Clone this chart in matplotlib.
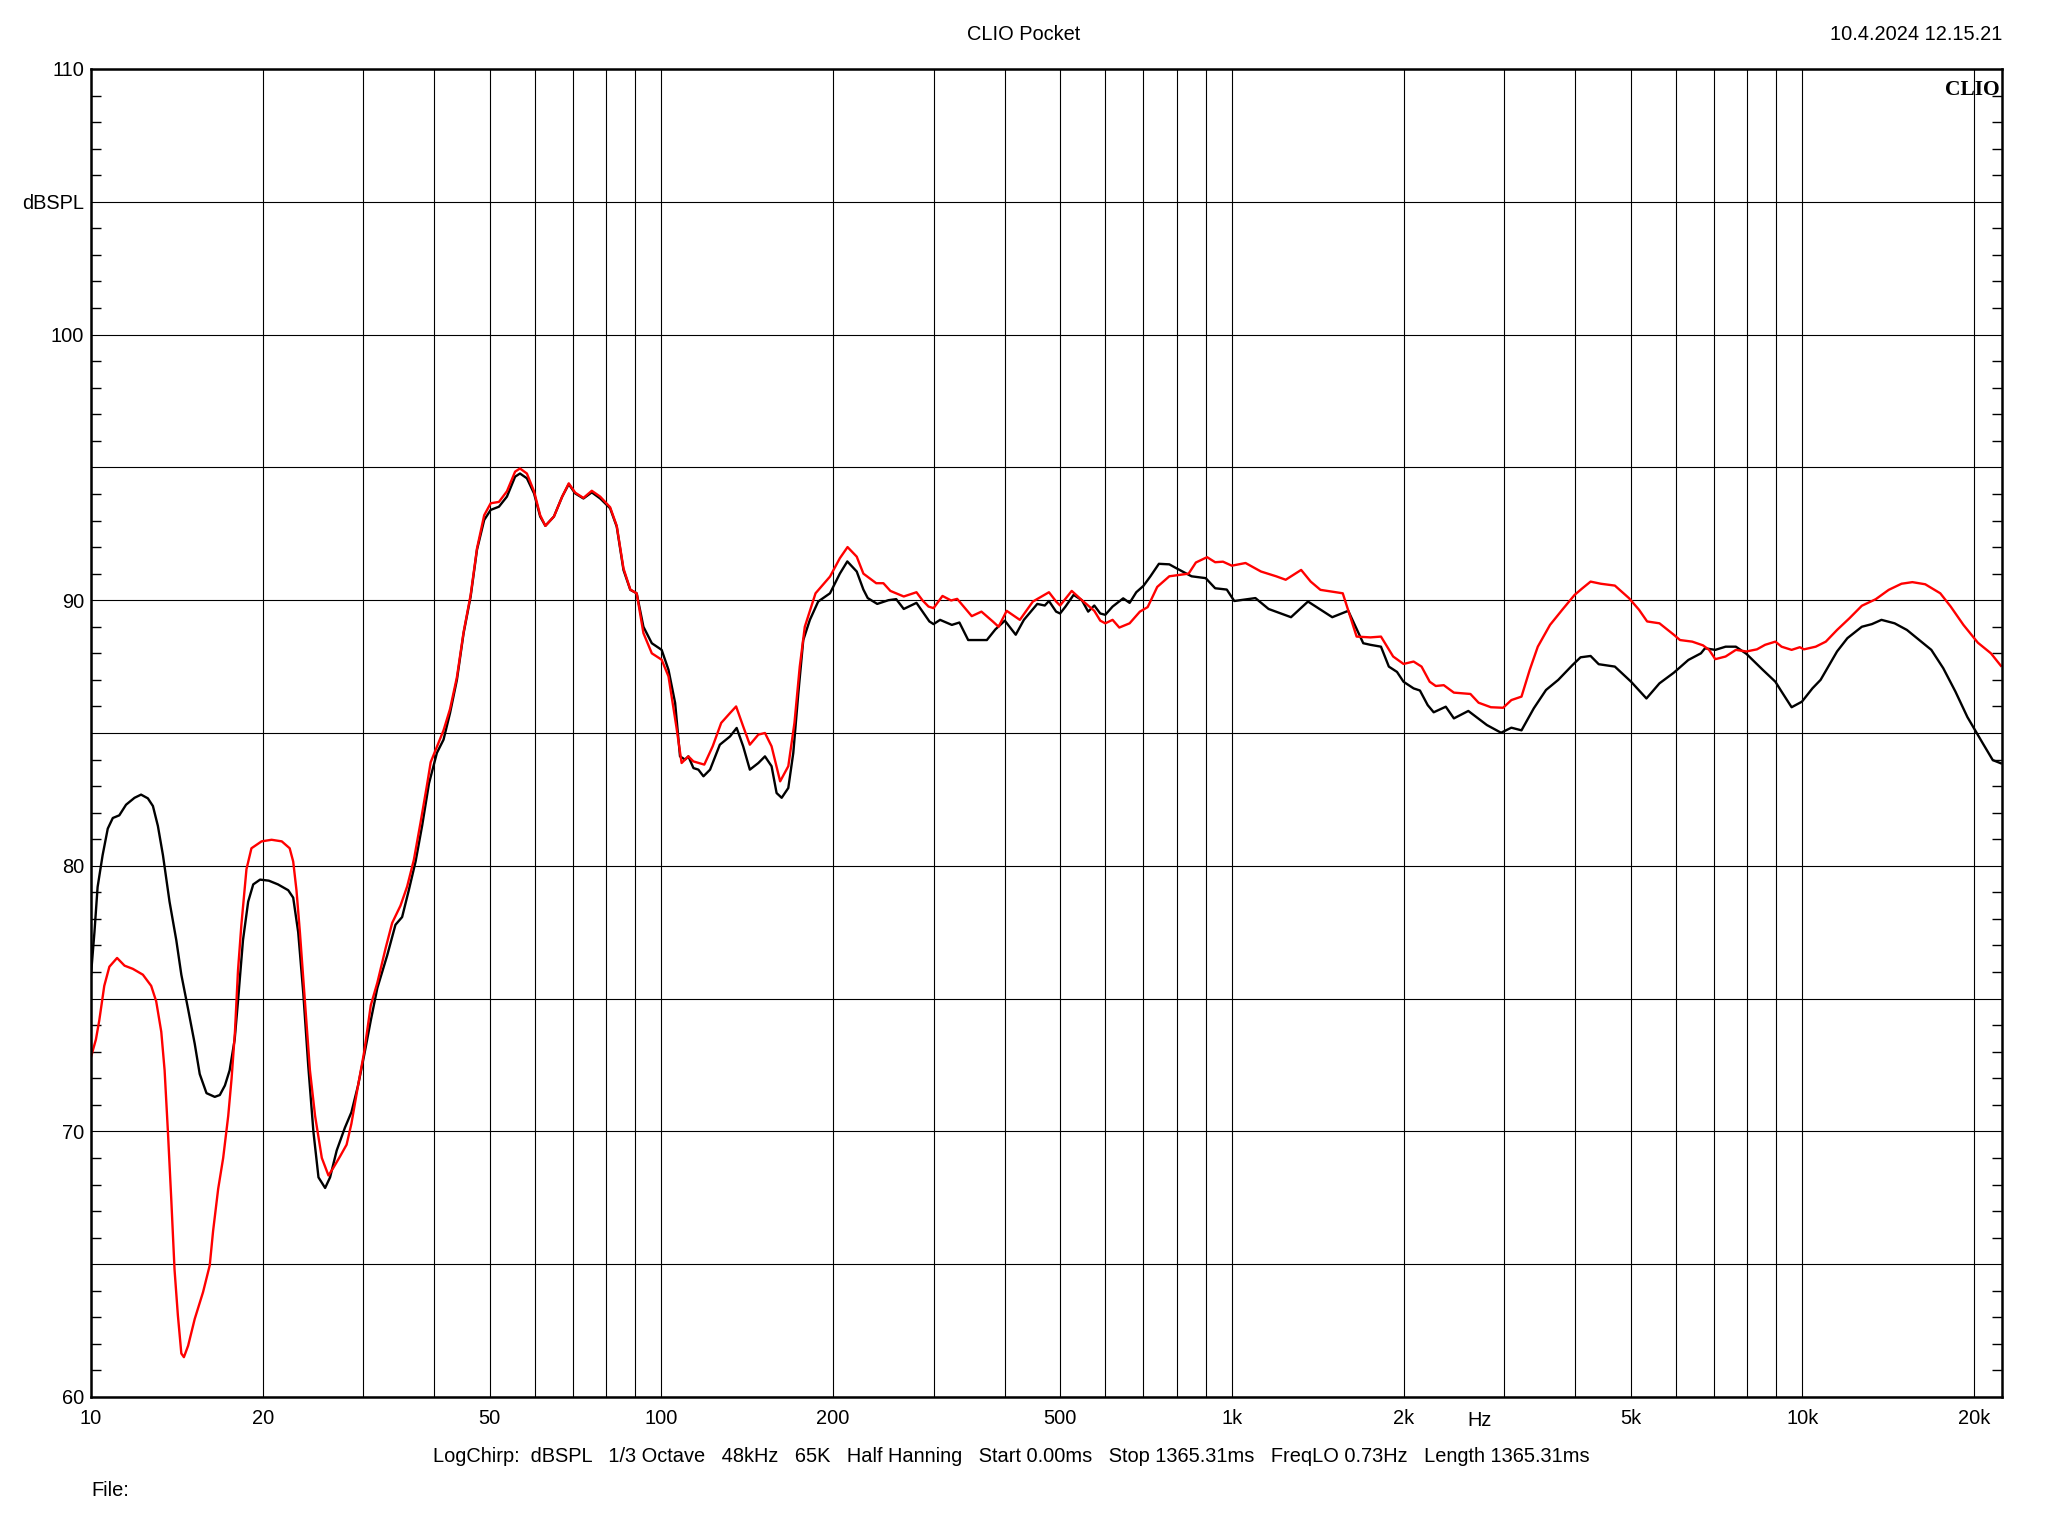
import numpy as np
import matplotlib.pyplot as plt
from matplotlib.ticker import FixedLocator, NullFormatter
import matplotlib.transforms as mtransforms

plt.rcParams['font.family'] = ['Liberation Sans', 'DejaVu Sans']

# Curva preta (medicao 1) - frequencia em Hz e nivel em dBSPL
f_black = [10, 10.14, 10.27, 10.48, 10.7, 10.92, 11.21, 11.52, 11.92, 12.24, 12.58, 12.84,
           13.1, 13.37, 13.73, 14.11, 14.4, 14.8, 15.2, 15.51, 15.94, 16.48, 16.82, 17.17,
           17.5, 17.86, 18.1, 18.47, 18.86, 19.25, 19.79, 20.5, 21.27, 22.17, 22.62, 23.08,
           23.56, 24.04, 24.54, 25.05, 25.73, 26.25, 26.96, 27.87, 28.61, 29.39, 30.13, 30.94,
           31.77, 33.06, 34.18, 35.11, 36.07, 37.07, 38.08, 39.13, 40.4, 41.5, 42.6, 43.8,
           45.0, 46.3, 47.5, 48.9, 50.2, 51.9, 53.6, 55.4, 56.5, 58.1, 59.8, 61.3,
           62.6, 64.8, 67.0, 68.8, 70.6, 73.0, 75.5, 78.1, 81.3, 83.5, 85.8, 88.2,
           90.5, 93.0, 96.2, 100.1, 102.9, 105.7, 107.8, 110, 111.5, 113.8, 116.1, 118.5,
           121.7, 126.6, 131.9, 135.5, 139.1, 142.9, 147.9, 151.9, 156, 159.2, 162.5, 166.9,
           170.3, 173.8, 177.3, 182.1, 188.3, 197.5, 205.5, 211.8, 220, 226, 230, 239,
           250, 258, 266, 280, 295, 300, 308, 323, 333, 345, 372, 385,
           400, 418, 432, 456, 470, 478, 492, 500, 511, 528, 546, 560,
           574, 588, 600, 618, 645, 662, 680, 700, 720, 745, 777, 800,
           850, 900, 935, 980, 1010, 1100, 1160, 1270, 1360, 1500, 1600, 1700,
           1750, 1826, 1885, 1948, 2000, 2083, 2137, 2205, 2259, 2372, 2451, 2598,
           2800, 2965, 3091, 3220, 3384, 3555, 3735, 3957, 4087, 4256, 4398, 4694,
           5012, 5332, 5620, 5955, 6315, 6644, 6754, 7040, 7340, 7650, 7983, 8536,
           8973, 9200, 9581, 9989, 10420, 10770, 11510, 12000, 12720, 13250, 13770, 14520,
           15260, 16040, 16840, 17670, 18560, 19480, 20000, 20730, 21580, 22290]
db_black = [75.9, 77.5, 79.2, 80.4, 81.4, 81.8, 81.9, 82.3, 82.56, 82.68, 82.54, 82.25,
            81.5, 80.4, 78.65, 77.2, 75.9, 74.6, 73.3, 72.16, 71.44, 71.3, 71.37, 71.73,
            72.3, 73.46, 74.9, 77.2, 78.65, 79.3, 79.48, 79.44, 79.3, 79.08, 78.8, 77.5,
            75.2, 72.45, 70.0, 68.27, 67.87, 68.27, 69.28, 70.14, 70.72, 71.73, 72.88, 74.18,
            75.4, 76.63, 77.78, 78.07, 79.08, 80.16, 81.53, 83.1, 84.25, 84.75, 85.75, 87.0,
            88.76, 90.14, 91.9, 93.02, 93.4, 93.52, 93.9, 94.65, 94.77, 94.59, 94.02, 93.15,
            92.8, 93.15, 93.9, 94.37, 94.02, 93.83, 94.06, 93.83, 93.46, 92.77, 91.14, 90.39,
            90.26, 89.0, 88.38, 88.13, 87.38, 86.13, 84.12, 84.0, 84.12, 83.68, 83.62, 83.37,
            83.62, 84.56, 84.87, 85.19, 84.5, 83.62, 83.87, 84.12, 83.75, 82.74, 82.56, 82.93,
            84.25, 86.5, 88.5, 89.26, 89.95, 90.26, 91.0, 91.46, 91.08, 90.4, 90.08, 89.86,
            90.0, 90.04, 89.67, 89.9, 89.2, 89.1, 89.26, 89.07, 89.16, 88.5, 88.5, 88.9,
            89.23, 88.7, 89.26, 89.86, 89.8, 89.97, 89.57, 89.5, 89.76, 90.2, 90.0, 89.57,
            89.8, 89.5, 89.45, 89.76, 90.07, 89.9, 90.3, 90.54, 90.9, 91.37, 91.35, 91.2,
            90.9, 90.83, 90.45, 90.4, 89.97, 90.08, 89.67, 89.36, 89.95, 89.36, 89.6, 88.38,
            88.32, 88.25, 87.5, 87.3, 86.93, 86.68, 86.6, 86.05, 85.78, 85.99, 85.55, 85.83,
            85.3, 85.01, 85.2, 85.1, 85.93, 86.62, 87.0, 87.56, 87.85, 87.9, 87.59, 87.5,
            86.93, 86.3, 86.87, 87.27, 87.75, 88.0, 88.19, 88.13, 88.25, 88.25, 87.98, 87.37,
            86.93, 86.56, 85.97, 86.18, 86.68, 87.0, 88.07, 88.57, 89.0, 89.1, 89.26, 89.13,
            88.88, 88.5, 88.13, 87.44, 86.56, 85.6, 85.18, 84.61, 83.98, 83.86]

# Curva vermelha (medicao 2)
f_red = [10, 10.2, 10.34, 10.55, 10.77, 11.11, 11.45, 11.84, 12.33, 12.75, 13.01, 13.28,
         13.46, 13.64, 13.83, 14.01, 14.2, 14.4, 14.55, 14.8, 15.2, 15.72, 16.15, 16.37,
         16.71, 17.05, 17.4, 17.64, 17.88, 18.1, 18.35, 18.73, 19.11, 19.91, 20.73, 21.6,
         22.3, 22.62, 22.92, 23.24, 23.72, 24.2, 24.71, 25.39, 26.08, 26.6, 27.33, 28.06,
         28.61, 29.39, 30.13, 30.94, 31.77, 32.85, 33.73, 34.88, 35.83, 36.82, 37.85, 38.86,
         39.4, 41.5, 42.6, 43.8, 45.0, 46.3, 47.5, 48.9, 50.2, 51.9, 53.6, 55.4,
         56.5, 58.1, 59.8, 61.3, 62.6, 64.8, 67.0, 68.8, 70.6, 73.0, 75.5, 78.1,
         81.3, 83.5, 85.8, 88.2, 90.5, 93.0, 96.2, 100.1, 102.9, 106.2, 108.5, 111.5,
         113.8, 118.9, 123.0, 127.3, 131.9, 135.2, 139.1, 142.9, 147.9, 151.9, 156, 161.5,
         166.9, 171.1, 174.8, 178.4, 186.3, 197.5, 205.5, 212, 220, 226, 238, 245,
         252, 266, 280, 287, 294, 300, 311, 322, 330, 350, 364, 381,
         390, 403, 425, 448, 478, 492, 500, 524, 546, 574, 588, 600,
         618, 635, 662, 690, 712, 740, 777, 840, 865, 905, 935, 965,
         1000, 1057, 1125, 1196, 1243, 1323, 1375, 1430, 1565, 1655, 1750, 1826,
         1918, 2000, 2083, 2151, 2223, 2278, 2353, 2451, 2620, 2708, 2846, 2990,
         3091, 3220, 3328, 3439, 3613, 3796, 3990, 4118, 4256, 4434, 4694, 4968,
         5175, 5347, 5620, 5955, 6106, 6415, 6700, 6866, 7040, 7340, 7650, 7983,
         8330, 8608, 8973, 9200, 9581, 9904, 10070, 10560, 11000, 11510, 12100, 12720,
         13460, 14180, 14930, 15600, 16430, 17460, 18210, 19170, 20320, 21420, 22300]
db_red = [72.8, 73.46, 74.18, 75.48, 76.2, 76.53, 76.24, 76.12, 75.9, 75.48, 74.9, 73.75,
          72.3, 70.0, 67.4, 64.8, 63.08, 61.64, 61.5, 61.93, 62.94, 63.95, 64.96, 66.25,
          67.84, 69.0, 70.58, 72.0, 73.75, 76.05, 77.78, 79.87, 80.66, 80.92, 80.98, 80.92,
          80.66, 80.16, 79.08, 77.5, 74.9, 72.3, 70.58, 69.0, 68.34, 68.63, 69.06, 69.5,
          70.29, 71.73, 73.0, 74.75, 75.6, 76.9, 77.85, 78.5, 79.22, 80.23, 81.67, 83.1,
          83.9, 85.1, 85.9, 87.1, 88.8, 90.2, 91.95, 93.2, 93.65, 93.7, 94.1, 94.84,
          94.96, 94.77, 94.1, 93.2, 92.8, 93.15, 93.9, 94.4, 94.05, 93.85, 94.12, 93.9,
          93.5, 92.8, 91.2, 90.4, 90.26, 88.76, 88.0, 87.76, 87.13, 85.25, 83.87, 84.12,
          83.93, 83.81, 84.5, 85.38, 85.75, 86.0, 85.25, 84.56, 84.94, 85.0, 84.5, 83.18,
          83.75, 85.38, 87.5, 89.0, 90.26, 90.89, 91.58, 92.0, 91.64, 91.0, 90.64, 90.64,
          90.35, 90.14, 90.3, 89.99, 89.76, 89.7, 90.16, 89.99, 90.05, 89.4, 89.57, 89.2,
          89.0, 89.6, 89.26, 89.95, 90.3, 89.95, 89.8, 90.35, 90.0, 89.6, 89.23, 89.13,
          89.26, 88.97, 89.13, 89.57, 89.74, 90.5, 90.9, 91.0, 91.42, 91.62, 91.43, 91.45,
          91.3, 91.4, 91.08, 90.9, 90.77, 91.14, 90.7, 90.39, 90.26, 88.63, 88.6, 88.63,
          87.88, 87.6, 87.69, 87.5, 86.93, 86.77, 86.8, 86.52, 86.47, 86.14, 85.97, 85.95,
          86.24, 86.37, 87.37, 88.25, 89.07, 89.64, 90.2, 90.45, 90.7, 90.62, 90.55, 90.08,
          89.64, 89.2, 89.13, 88.7, 88.5, 88.44, 88.3, 88.13, 87.78, 87.88, 88.13, 88.07,
          88.15, 88.32, 88.44, 88.25, 88.13, 88.23, 88.15, 88.25, 88.44, 88.88, 89.32, 89.79,
          90.04, 90.39, 90.62, 90.68, 90.6, 90.26, 89.76, 89.07, 88.4, 88.0, 87.53]

# Eixos
x_major = [10, 20, 50, 100, 200, 500, 1000, 2000, 5000, 10000, 20000]
x_labels = ['10', '20', '50', '100', '200', '500', '1k', '2k', '5k', '10k', '20k']
x_grid = [m * 10**d for d in range(1, 5) for m in range(1, 10)]
x_grid = [v for v in x_grid if 10 < v < 22400]
y_major = list(range(60, 111, 5))
y_labels = ['60', '', '70', '', '80', '', '90', '', '100', 'dBSPL', '110']

fs = 14.4

fig = plt.figure(figsize=(20.48, 15.36), dpi=100)
ax = fig.add_axes([91/2048, 1 - 1397/1536, (2002 - 91)/2048, (1397 - 69)/1536])

ax.semilogx(f_black, db_black, color='black', lw=1.7, zorder=3)
ax.semilogx(f_red, db_red, color='#ff0000', lw=1.7, zorder=4)

ax.set_xlim(10, 22400)
ax.set_ylim(60, 110)

ax.xaxis.set_major_locator(FixedLocator(x_major))
ax.set_xticklabels(x_labels)
ax.xaxis.set_minor_locator(FixedLocator(x_grid))
ax.xaxis.set_minor_formatter(NullFormatter())
ax.set_yticks(y_major)
ax.set_yticklabels(y_labels)
ax.yaxis.set_minor_locator(FixedLocator([v for v in range(61, 110) if v % 5 != 0]))

ax.grid(True, which='both', axis='x', color='black', lw=0.8)
ax.grid(True, which='major', axis='y', color='black', lw=0.8)

ax.tick_params(axis='both', which='major', length=0, labelsize=fs, colors='black')
ax.tick_params(axis='x', which='major', pad=9)
ax.tick_params(axis='y', which='major', pad=5)
ax.tick_params(axis='x', which='minor', length=0)
ax.tick_params(axis='y', which='minor', direction='in', left=True, right=True,
               length=7, width=1.0)
for s in ax.spines.values():
    s.set_linewidth(1.8)
    s.set_zorder(5)

# Rotulo Hz no eixo x
trans = mtransforms.blended_transform_factory(ax.transData, fig.transFigure)
ax.text(2720, 1 - 1421/1536, 'Hz', transform=trans, ha='center', va='center', fontsize=fs)

# Textos
fig.text(0.5, 1 - 34/1536, 'CLIO Pocket', ha='center', va='center', fontsize=fs)
fig.text(2002/2048, 1 - 34/1536, '10.4.2024 12.15.21', ha='right', va='center', fontsize=fs)
ax.text(0.999, 0.992, 'CLIO', transform=ax.transAxes, ha='right', va='top',
        fontsize=15.5, fontweight='bold', family=['Liberation Serif', 'DejaVu Serif'])
fig.text(1011/2048, 1 - 1457/1536,
         'LogChirp:  dBSPL   1/3 Octave   48kHz   65K   Half Hanning   Start 0.00ms   '
         'Stop 1365.31ms   FreqLO 0.73Hz   Length 1365.31ms',
         ha='center', va='center', fontsize=fs)
fig.text(91/2048, 1 - 1490/1536, 'File:', ha='left', va='center', fontsize=fs)

fig.savefig('out.png', dpi=100)
